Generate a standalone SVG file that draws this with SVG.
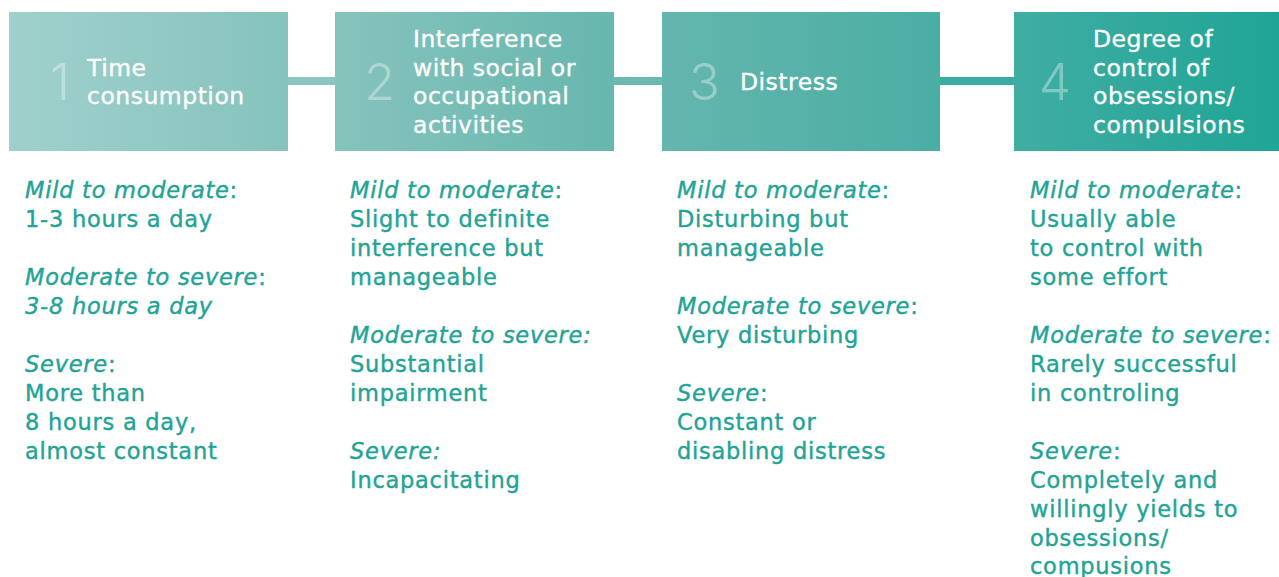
<svg xmlns="http://www.w3.org/2000/svg" width="1279" height="577" viewBox="0 0 1279 577">
<defs>
<linearGradient id="g1" x1="0" x2="1" y1="0" y2="0"><stop offset="0" stop-color="#a0d0cc"/><stop offset="1" stop-color="#86c3bd"/></linearGradient>
<linearGradient id="g2" x1="0" x2="1" y1="0" y2="0"><stop offset="0" stop-color="#86c3bd"/><stop offset="1" stop-color="#66b7ae"/></linearGradient>
<linearGradient id="g3" x1="0" x2="1" y1="0" y2="0"><stop offset="0" stop-color="#64b6ae"/><stop offset="1" stop-color="#4aaea4"/></linearGradient>
<linearGradient id="g4" x1="0" x2="1" y1="0" y2="0"><stop offset="0" stop-color="#40ada3"/><stop offset="1" stop-color="#1fa595"/></linearGradient>
</defs>
<style>
.num{font-family:"Inter","DejaVu Sans",sans-serif;font-weight:300;font-size:51px;fill:#ffffff;fill-opacity:0.35}
.title{font-family:"DejaVu Sans",sans-serif;font-size:23.5px;letter-spacing:0.5px;fill:#ffffff;stroke:#ffffff;stroke-width:0.35px}
.body{font-family:"DejaVu Sans",sans-serif;font-size:22.5px;letter-spacing:0.75px;fill:#22a396;stroke:#22a396;stroke-width:0.4px}
.it{font-style:italic}
</style>
<g id="connectors">
<rect x="288" y="77" width="47" height="8" fill="#8cc5bf"/>
<rect x="614" y="77" width="48" height="8" fill="#6cb9b1"/>
<rect x="940" y="77" width="74" height="8" fill="#38aca0"/>
</g>
<g id="node1">
<rect x="9" y="12" width="279" height="139" fill="url(#g1)"/>
<text class="num" x="50" y="100">1</text>
<text class="title" x="87"><tspan x="87" y="76">Time</tspan><tspan x="87" y="104">consumption</tspan></text>
<text class="body" x="25"><tspan x="25" y="198"><tspan class="it">Mild to moderate</tspan>:</tspan><tspan x="25" y="227">1-3 hours a day</tspan><tspan x="25" y="285"><tspan class="it">Moderate to severe</tspan>:</tspan><tspan x="25" y="314" class="it">3-8 hours a day</tspan><tspan x="25" y="372"><tspan class="it">Severe</tspan>:</tspan><tspan x="25" y="401">More than</tspan><tspan x="25" y="430">8 hours a day,</tspan><tspan x="25" y="459">almost constant</tspan></text>
</g>
<g id="node2">
<rect x="335" y="12" width="279" height="139" fill="url(#g2)"/>
<text class="num" x="364" y="100">2</text>
<text class="title"><tspan x="413" y="47">Interference</tspan><tspan x="413" y="76">with social or</tspan><tspan x="413" y="104">occupational</tspan><tspan x="413" y="133">activities</tspan></text>
<text class="body"><tspan x="350" y="198"><tspan class="it">Mild to moderate</tspan>:</tspan><tspan x="350" y="227">Slight to definite</tspan><tspan x="350" y="256">interference but</tspan><tspan x="350" y="285">manageable</tspan><tspan x="350" y="343" class="it">Moderate to severe:</tspan><tspan x="350" y="372">Substantial</tspan><tspan x="350" y="401">impairment</tspan><tspan x="350" y="459" class="it">Severe:</tspan><tspan x="350" y="488">Incapacitating</tspan></text>
</g>
<g id="node3">
<rect x="662" y="12" width="278" height="139" fill="url(#g3)"/>
<text class="num" x="689" y="100">3</text>
<text class="title" x="740" y="90">Distress</text>
<text class="body"><tspan x="677" y="198"><tspan class="it">Mild to moderate</tspan>:</tspan><tspan x="677" y="227">Disturbing but</tspan><tspan x="677" y="256">manageable</tspan><tspan x="677" y="314"><tspan class="it">Moderate to severe</tspan>:</tspan><tspan x="677" y="343">Very disturbing</tspan><tspan x="677" y="401"><tspan class="it">Severe</tspan>:</tspan><tspan x="677" y="430">Constant or</tspan><tspan x="677" y="459">disabling distress</tspan></text>
</g>
<g id="node4">
<rect x="1014" y="12" width="265" height="139" fill="url(#g4)"/>
<text class="num" x="1039" y="100">4</text>
<text class="title"><tspan x="1093" y="47">Degree of</tspan><tspan x="1093" y="76">control of</tspan><tspan x="1093" y="104">obsessions/</tspan><tspan x="1093" y="133">compulsions</tspan></text>
<text class="body"><tspan x="1030" y="198"><tspan class="it">Mild to moderate</tspan>:</tspan><tspan x="1030" y="227">Usually able</tspan><tspan x="1030" y="256">to control with</tspan><tspan x="1030" y="285">some effort</tspan><tspan x="1030" y="343"><tspan class="it">Moderate to severe</tspan>:</tspan><tspan x="1030" y="372">Rarely successful</tspan><tspan x="1030" y="401">in controling</tspan><tspan x="1030" y="459"><tspan class="it">Severe</tspan>:</tspan><tspan x="1030" y="488">Completely and</tspan><tspan x="1030" y="517">willingly yields to</tspan><tspan x="1030" y="546">obsessions/</tspan><tspan x="1030" y="574">compusions</tspan></text>
</g>
</svg>
